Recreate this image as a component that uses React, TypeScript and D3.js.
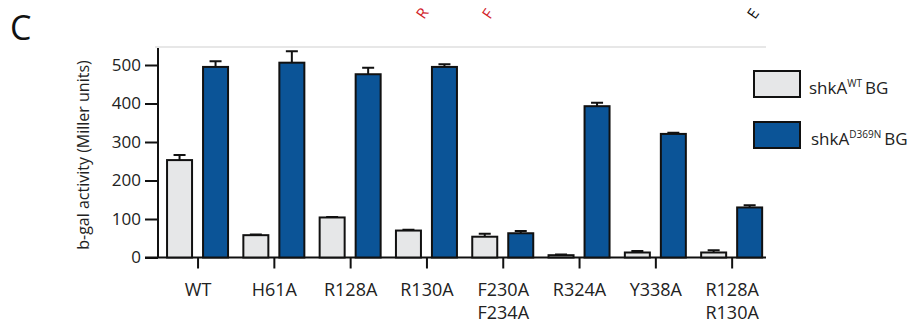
import React, { useRef, useEffect } from 'react'
import * as d3 from 'd3'

// mutants on the x axis (multi-line labels split on \n)
const categories = ['WT', 'H61A', 'R128A', 'R130A', 'F230A\nF234A', 'R324A', 'Y338A', 'R128A\nR130A']
const series = ['shkA WT BG', 'shkA D369N BG']
// mean b-gal activity (Miller units)
const wtValues = [253, 58, 104, 70, 54, 6, 13, 13]
const d369nValues = [495, 506, 476, 495, 63, 393, 321, 130]
// upper error (mean + sd)
const wtErr = [266, 60, 105, 72, 62, 8, 17, 19]
const d369nErr = [510, 536, 493, 502, 69, 402, 324, 136]
const yTicks = [0, 100, 200, 300, 400, 500]

const colors = ['#e6e7e8', '#0b5497']
const font = "'Open Sans', sans-serif"

export default function App() {
  const svgRef = useRef<SVGSVGElement>(null)

  useEffect(() => {
    const w = 915
    const h = 327
    const svg = d3.select(svgRef.current)
      .attr('width', w)
      .attr('height', h)
      .style('display', 'block')
      .style('font-family', font)
    svg.selectAll('*').remove()

    const x = d3.scaleBand<string>()
      .domain(categories)
      .range([159.9, 770.3])
    const sub = d3.scaleBand<number>()
      .domain([0, 1])
      .range([-31, 30])
      .paddingInner(0.3056)
    const y = d3.scaleLinear()
      .domain([0, 500])
      .range([257.5, 65])

    const center = (c: string) => (x(c) as number) + x.bandwidth() / 2

    // "C" panel letter
    svg.append('text')
      .attr('x', 10).attr('y', 40)
      .attr('font-size', 34)
      .attr('fill', '#111')
      .text('C')

    // rotated labels of the panel above, only their first letter shows
    const topBits = [
      { t: 'R', x: 424, c: '#d2232a' },
      { t: 'F', x: 490, c: '#d2232a' },
      { t: 'E', x: 755, c: '#111' },
    ]
    svg.append('g').selectAll('text')
      .data(topBits)
      .join('text')
      .attr('transform', d => `translate(${d.x},20) rotate(-55)`)
      .attr('font-size', 15)
      .attr('fill', d => d.c)
      .text(d => d.t)

    // faint top rule
    svg.append('line')
      .attr('x1', 155).attr('x2', 766)
      .attr('y1', 47).attr('y2', 47)
      .attr('stroke', '#cfcfcf').attr('stroke-width', 1)

    // y axis
    const yAxis = d3.axisLeft(y)
      .tickValues(yTicks)
      .tickSize(13)
      .tickPadding(4)
    const gy = svg.append('g')
      .attr('transform', 'translate(158,0)')
      .call(yAxis)
    gy.select('.domain').remove()
    gy.selectAll('.tick line').attr('stroke', '#111').attr('stroke-width', 2)
    gy.selectAll('.tick text')
      .attr('font-family', font)
      .attr('font-size', 17)
      .attr('fill', '#222')
    gy.append('line')
      .attr('x1', 0).attr('x2', 0)
      .attr('y1', 48).attr('y2', y(0))
      .attr('stroke', '#111').attr('stroke-width', 2)

    svg.append('text')
      .attr('transform', `translate(89,${155}) rotate(-90)`)
      .attr('text-anchor', 'middle')
      .attr('font-size', 16)
      .attr('fill', '#222')
      .text('b-gal activity (Miller units)')

    // x axis
    svg.append('line')
      .attr('x1', 145).attr('x2', 766)
      .attr('y1', y(0)).attr('y2', y(0))
      .attr('stroke', '#111').attr('stroke-width', 2)
    const gx = svg.append('g')
    gx.selectAll('line')
      .data(categories)
      .join('line')
      .attr('x1', center).attr('x2', center)
      .attr('y1', y(0)).attr('y2', y(0) + 11)
      .attr('stroke', '#111').attr('stroke-width', 2)
    gx.selectAll('text')
      .data(categories)
      .join('text')
      .attr('x', center)
      .attr('y', 296)
      .attr('text-anchor', 'middle')
      .attr('font-size', 18)
      .attr('fill', '#222')
      .each(function (d) {
        const lines = d.split('\n')
        d3.select(this).selectAll('tspan')
          .data(lines)
          .join('tspan')
          .attr('x', center(d))
          .attr('dy', (_, i) => (i === 0 ? 0 : 23))
          .text(l => l)
      })

    // bars
    const rows = categories.map((c, i) => [
      { c, k: 0, v: wtValues[i], e: wtErr[i] },
      { c, k: 1, v: d369nValues[i], e: d369nErr[i] },
    ]).flat()

    const bars = svg.append('g')
    // error bars first so the bar outline sits on top
    bars.selectAll('path.err')
      .data(rows)
      .join('path')
      .attr('class', 'err')
      .attr('d', d => {
        const cx = center(d.c) + (sub(d.k) as number) + sub.bandwidth() / 2
        return `M${cx},${y(d.v)}V${y(d.e)}M${cx - 6},${y(d.e)}H${cx + 6}`
      })
      .attr('stroke', '#111')
      .attr('stroke-width', 2)
      .attr('fill', 'none')
    bars.selectAll('rect')
      .data(rows)
      .join('rect')
      .attr('x', d => center(d.c) + (sub(d.k) as number))
      .attr('width', sub.bandwidth())
      .attr('y', d => y(d.v))
      .attr('height', d => y(0) - y(d.v))
      .attr('fill', d => colors[d.k])
      .attr('stroke', '#111')
      .attr('stroke-width', 2)

    // legend
    const leg = svg.append('g')
    const legY = [71, 122]
    leg.selectAll('rect')
      .data(series)
      .join('rect')
      .attr('x', 754).attr('y', (_, i) => legY[i])
      .attr('width', 46).attr('height', 26)
      .attr('fill', (_, i) => colors[i])
      .attr('stroke', '#111').attr('stroke-width', 2)
    const sups = ['WT', 'D369N']
    leg.selectAll('text')
      .data(series)
      .join('text')
      .attr('x', (_, i) => (i === 0 ? 809 : 811))
      .attr('y', (_, i) => legY[i] + 23)
      .attr('font-size', 17)
      .attr('fill', '#222')
      .each(function (_, i) {
        const t = d3.select(this)
        t.append('tspan').text('shkA')
        t.append('tspan').attr('font-size', 10).attr('dy', -7).text(sups[i])
        t.append('tspan').attr('dy', 7).attr('dx', 3).text('BG')
      })
  }, [])

  return (
    <div style={{ margin: -8 }}>
      <svg ref={svgRef}></svg>
    </div>
  )
}
